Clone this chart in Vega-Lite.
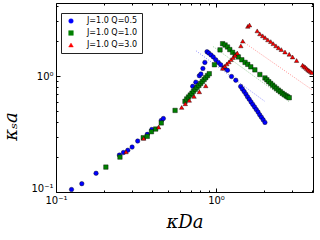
{
  "$schema": "https://vega.github.io/schema/vega-lite/v6.json",
  "width": 257,
  "height": 189,
  "autosize": {"type": "none"},
  "padding": {"left": 56, "top": 3, "right": 7, "bottom": 48},
  "config": {
    "view": {"stroke": "black", "strokeWidth": 1},
    "font": "DejaVu Sans",
    "axis": {"grid": false, "domain": false, "tickColor": "black", "labelColor": "black", "labelFontSize": 10, "labelFont": "DejaVu Sans", "titleColor": "black", "titleFont": "DejaVu Serif", "titleFontStyle": "italic", "titleFontWeight": "normal", "titleFontSize": 18},
    "legend": {"labelFontSize": 8, "labelFont": "DejaVu Sans", "labelColor": "black", "strokeColor": "#222222", "fillColor": "white", "padding": 4, "rowPadding": 4, "symbolSize": 22, "symbolOpacity": 1, "symbolStrokeColor": "black", "symbolStrokeWidth": 0.4, "labelOffset": 12, "cornerRadius": 0, "symbolOffset": 2}
  },
  "datasets": {
    "fits": [
      {"series": "J=1.0 Q=0.5", "kD": 0.75, "ks": 1.65},
      {"series": "J=1.0 Q=0.5", "kD": 2.02, "ks": 0.604},
      {"series": "J=1.0 Q=1.0", "kD": 0.962, "ks": 1.79},
      {"series": "J=1.0 Q=1.0", "kD": 2.87, "ks": 0.60},
      {"series": "J=1.0 Q=3.0", "kD": 1.52, "ks": 1.92},
      {"series": "J=1.0 Q=3.0", "kD": 3.98, "ks": 0.762}
    ],
    "pts": [
      {"series": "J=1.0 Q=0.5", "kD": 0.125, "ks": 0.105},
      {"series": "J=1.0 Q=0.5", "kD": 0.145, "ks": 0.118},
      {"series": "J=1.0 Q=0.5", "kD": 0.178, "ks": 0.145},
      {"series": "J=1.0 Q=0.5", "kD": 0.249, "ks": 0.208},
      {"series": "J=1.0 Q=0.5", "kD": 0.264, "ks": 0.219},
      {"series": "J=1.0 Q=0.5", "kD": 0.281, "ks": 0.229},
      {"series": "J=1.0 Q=0.5", "kD": 0.299, "ks": 0.244},
      {"series": "J=1.0 Q=0.5", "kD": 0.324, "ks": 0.275},
      {"series": "J=1.0 Q=0.5", "kD": 0.372, "ks": 0.314},
      {"series": "J=1.0 Q=0.5", "kD": 0.397, "ks": 0.346},
      {"series": "J=1.0 Q=0.5", "kD": 0.455, "ks": 0.414},
      {"series": "J=1.0 Q=0.5", "kD": 0.469, "ks": 0.43},
      {"series": "J=1.0 Q=0.5", "kD": 0.715, "ks": 0.815},
      {"series": "J=1.0 Q=0.5", "kD": 0.748, "ks": 0.885},
      {"series": "J=1.0 Q=0.5", "kD": 0.787, "ks": 1.006},
      {"series": "J=1.0 Q=0.5", "kD": 0.805, "ks": 1.04},
      {"series": "J=1.0 Q=0.5", "kD": 0.828, "ks": 1.16},
      {"series": "J=1.0 Q=0.5", "kD": 0.852, "ks": 1.31},
      {"series": "J=1.0 Q=0.5", "kD": 0.879, "ks": 1.62},
      {"series": "J=1.0 Q=0.5", "kD": 0.9, "ks": 1.58},
      {"series": "J=1.0 Q=0.5", "kD": 0.931, "ks": 1.52},
      {"series": "J=1.0 Q=0.5", "kD": 0.962, "ks": 1.46},
      {"series": "J=1.0 Q=0.5", "kD": 0.996, "ks": 1.38},
      {"series": "J=1.0 Q=0.5", "kD": 1.034, "ks": 1.31},
      {"series": "J=1.0 Q=0.5", "kD": 1.07, "ks": 1.25},
      {"series": "J=1.0 Q=0.5", "kD": 1.12, "ks": 1.18},
      {"series": "J=1.0 Q=0.5", "kD": 1.18, "ks": 1.12},
      {"series": "J=1.0 Q=0.5", "kD": 1.25, "ks": 0.99},
      {"series": "J=1.0 Q=0.5", "kD": 1.33, "ks": 0.92},
      {"series": "J=1.0 Q=0.5", "kD": 1.426, "ks": 0.813},
      {"series": "J=1.0 Q=0.5", "kD": 1.462, "ks": 0.773},
      {"series": "J=1.0 Q=0.5", "kD": 1.5, "ks": 0.735},
      {"series": "J=1.0 Q=0.5", "kD": 1.538, "ks": 0.698},
      {"series": "J=1.0 Q=0.5", "kD": 1.574, "ks": 0.662},
      {"series": "J=1.0 Q=0.5", "kD": 1.614, "ks": 0.63},
      {"series": "J=1.0 Q=0.5", "kD": 1.656, "ks": 0.598},
      {"series": "J=1.0 Q=0.5", "kD": 1.698, "ks": 0.569},
      {"series": "J=1.0 Q=0.5", "kD": 1.742, "ks": 0.541},
      {"series": "J=1.0 Q=0.5", "kD": 1.786, "ks": 0.514},
      {"series": "J=1.0 Q=0.5", "kD": 1.832, "ks": 0.489},
      {"series": "J=1.0 Q=0.5", "kD": 1.875, "ks": 0.463},
      {"series": "J=1.0 Q=0.5", "kD": 1.923, "ks": 0.441},
      {"series": "J=1.0 Q=0.5", "kD": 1.972, "ks": 0.419},
      {"series": "J=1.0 Q=0.5", "kD": 2.023, "ks": 0.398},
      {"series": "J=1.0 Q=1.0", "kD": 0.205, "ks": 0.164},
      {"series": "J=1.0 Q=1.0", "kD": 0.251, "ks": 0.2},
      {"series": "J=1.0 Q=1.0", "kD": 0.351, "ks": 0.294},
      {"series": "J=1.0 Q=1.0", "kD": 0.372, "ks": 0.302},
      {"series": "J=1.0 Q=1.0", "kD": 0.395, "ks": 0.331},
      {"series": "J=1.0 Q=1.0", "kD": 0.42, "ks": 0.349},
      {"series": "J=1.0 Q=1.0", "kD": 0.455, "ks": 0.394},
      {"series": "J=1.0 Q=1.0", "kD": 0.555, "ks": 0.505},
      {"series": "J=1.0 Q=1.0", "kD": 0.64, "ks": 0.605},
      {"series": "J=1.0 Q=1.0", "kD": 0.656, "ks": 0.634},
      {"series": "J=1.0 Q=1.0", "kD": 0.673, "ks": 0.659},
      {"series": "J=1.0 Q=1.0", "kD": 0.69, "ks": 0.685},
      {"series": "J=1.0 Q=1.0", "kD": 0.708, "ks": 0.711},
      {"series": "J=1.0 Q=1.0", "kD": 0.724, "ks": 0.74},
      {"series": "J=1.0 Q=1.0", "kD": 0.743, "ks": 0.769},
      {"series": "J=1.0 Q=1.0", "kD": 0.762, "ks": 0.8},
      {"series": "J=1.0 Q=1.0", "kD": 0.782, "ks": 0.83},
      {"series": "J=1.0 Q=1.0", "kD": 0.802, "ks": 0.863},
      {"series": "J=1.0 Q=1.0", "kD": 0.822, "ks": 0.897},
      {"series": "J=1.0 Q=1.0", "kD": 0.843, "ks": 0.933},
      {"series": "J=1.0 Q=1.0", "kD": 0.863, "ks": 0.968},
      {"series": "J=1.0 Q=1.0", "kD": 0.885, "ks": 1.007},
      {"series": "J=1.0 Q=1.0", "kD": 0.908, "ks": 1.047},
      {"series": "J=1.0 Q=1.0", "kD": 0.978, "ks": 1.25},
      {"series": "J=1.0 Q=1.0", "kD": 1.06, "ks": 1.68},
      {"series": "J=1.0 Q=1.0", "kD": 1.1, "ks": 1.9},
      {"series": "J=1.0 Q=1.0", "kD": 1.14, "ks": 1.85},
      {"series": "J=1.0 Q=1.0", "kD": 1.18, "ks": 1.78},
      {"series": "J=1.0 Q=1.0", "kD": 1.22, "ks": 1.69},
      {"series": "J=1.0 Q=1.0", "kD": 1.27, "ks": 1.6},
      {"series": "J=1.0 Q=1.0", "kD": 1.32, "ks": 1.52},
      {"series": "J=1.0 Q=1.0", "kD": 1.38, "ks": 1.46},
      {"series": "J=1.0 Q=1.0", "kD": 1.45, "ks": 1.38},
      {"series": "J=1.0 Q=1.0", "kD": 1.52, "ks": 1.31},
      {"series": "J=1.0 Q=1.0", "kD": 1.58, "ks": 1.26},
      {"series": "J=1.0 Q=1.0", "kD": 1.65, "ks": 1.2},
      {"series": "J=1.0 Q=1.0", "kD": 1.75, "ks": 1.13},
      {"series": "J=1.0 Q=1.0", "kD": 1.88, "ks": 1.03},
      {"series": "J=1.0 Q=1.0", "kD": 2.023, "ks": 0.962},
      {"series": "J=1.0 Q=1.0", "kD": 2.08, "ks": 0.927},
      {"series": "J=1.0 Q=1.0", "kD": 2.138, "ks": 0.893},
      {"series": "J=1.0 Q=1.0", "kD": 2.198, "ks": 0.863},
      {"series": "J=1.0 Q=1.0", "kD": 2.259, "ks": 0.834},
      {"series": "J=1.0 Q=1.0", "kD": 2.323, "ks": 0.805},
      {"series": "J=1.0 Q=1.0", "kD": 2.388, "ks": 0.78},
      {"series": "J=1.0 Q=1.0", "kD": 2.455, "ks": 0.755},
      {"series": "J=1.0 Q=1.0", "kD": 2.523, "ks": 0.733},
      {"series": "J=1.0 Q=1.0", "kD": 2.594, "ks": 0.711},
      {"series": "J=1.0 Q=1.0", "kD": 2.667, "ks": 0.692},
      {"series": "J=1.0 Q=1.0", "kD": 2.742, "ks": 0.675},
      {"series": "J=1.0 Q=1.0", "kD": 2.805, "ks": 0.661},
      {"series": "J=1.0 Q=1.0", "kD": 2.871, "ks": 0.65},
      {"series": "J=1.0 Q=3.0", "kD": 0.274, "ks": 0.222},
      {"series": "J=1.0 Q=3.0", "kD": 0.353, "ks": 0.29},
      {"series": "J=1.0 Q=3.0", "kD": 0.438, "ks": 0.363},
      {"series": "J=1.0 Q=3.0", "kD": 0.61, "ks": 0.536},
      {"series": "J=1.0 Q=3.0", "kD": 0.643, "ks": 0.577},
      {"series": "J=1.0 Q=3.0", "kD": 0.681, "ks": 0.617},
      {"series": "J=1.0 Q=3.0", "kD": 0.729, "ks": 0.667},
      {"series": "J=1.0 Q=3.0", "kD": 0.787, "ks": 0.731},
      {"series": "J=1.0 Q=3.0", "kD": 0.863, "ks": 0.824},
      {"series": "J=1.0 Q=3.0", "kD": 1.102, "ks": 1.164},
      {"series": "J=1.0 Q=3.0", "kD": 1.135, "ks": 1.216},
      {"series": "J=1.0 Q=3.0", "kD": 1.169, "ks": 1.271},
      {"series": "J=1.0 Q=3.0", "kD": 1.205, "ks": 1.324},
      {"series": "J=1.0 Q=3.0", "kD": 1.242, "ks": 1.384},
      {"series": "J=1.0 Q=3.0", "kD": 1.279, "ks": 1.445},
      {"series": "J=1.0 Q=3.0", "kD": 1.318, "ks": 1.51},
      {"series": "J=1.0 Q=3.0", "kD": 1.358, "ks": 1.578},
      {"series": "J=1.0 Q=3.0", "kD": 1.43, "ks": 1.82},
      {"series": "J=1.0 Q=3.0", "kD": 1.47, "ks": 2.0},
      {"series": "J=1.0 Q=3.0", "kD": 1.58, "ks": 2.68},
      {"series": "J=1.0 Q=3.0", "kD": 1.62, "ks": 2.75},
      {"series": "J=1.0 Q=3.0", "kD": 1.81, "ks": 2.45},
      {"series": "J=1.0 Q=3.0", "kD": 1.88, "ks": 2.31},
      {"series": "J=1.0 Q=3.0", "kD": 1.96, "ks": 2.22},
      {"series": "J=1.0 Q=3.0", "kD": 2.03, "ks": 2.14},
      {"series": "J=1.0 Q=3.0", "kD": 2.11, "ks": 2.05},
      {"series": "J=1.0 Q=3.0", "kD": 2.2, "ks": 1.98},
      {"series": "J=1.0 Q=3.0", "kD": 2.28, "ks": 1.9},
      {"series": "J=1.0 Q=3.0", "kD": 2.37, "ks": 1.82},
      {"series": "J=1.0 Q=3.0", "kD": 2.46, "ks": 1.75},
      {"series": "J=1.0 Q=3.0", "kD": 2.56, "ks": 1.69},
      {"series": "J=1.0 Q=3.0", "kD": 2.7, "ks": 1.61},
      {"series": "J=1.0 Q=3.0", "kD": 2.87, "ks": 1.54},
      {"series": "J=1.0 Q=3.0", "kD": 3.01, "ks": 1.46},
      {"series": "J=1.0 Q=3.0", "kD": 3.19, "ks": 1.36},
      {"series": "J=1.0 Q=3.0", "kD": 3.48, "ks": 1.24},
      {"series": "J=1.0 Q=3.0", "kD": 3.55, "ks": 1.21},
      {"series": "J=1.0 Q=3.0", "kD": 3.62, "ks": 1.19},
      {"series": "J=1.0 Q=3.0", "kD": 3.69, "ks": 1.16},
      {"series": "J=1.0 Q=3.0", "kD": 3.76, "ks": 1.13},
      {"series": "J=1.0 Q=3.0", "kD": 3.83, "ks": 1.11},
      {"series": "J=1.0 Q=3.0", "kD": 3.91, "ks": 1.09},
      {"series": "J=1.0 Q=3.0", "kD": 3.98, "ks": 1.07}
    ]
  },
  "layer": [
    {
      "data": {"name": "fits"},
      "mark": {"type": "line", "strokeDash": [1, 1.5], "strokeWidth": 0.8, "opacity": 0.55, "clip": true},
      "encoding": {
        "x": {"field": "kD", "type": "quantitative", "scale": {"type": "log", "domain": [0.1, 4.04], "nice": false},
          "axis": {"orient": "bottom", "title": "κDa", "values": [0.1,0.2,0.3,0.4,0.5,0.6,0.7,0.8,0.9,1,2,3,4],
            "labelExpr": "datum.value == 0.1 ? '10⁻¹' : (datum.value == 1 ? '10⁰' : '')",
            "tickSize": {"condition": {"test": "datum.value == 0.1 || datum.value == 1", "value": -4}, "value": -2},
            "labelPadding": 7, "titlePadding": 6, "labelFlush": false, "labelOverlap": false}},
        "y": {"field": "ks", "type": "quantitative", "scale": {"type": "log", "domain": [0.1, 4.26], "nice": false},
          "axis": {"orient": "left", "title": "κₛa", "values": [0.1,0.2,0.3,0.4,0.5,0.6,0.7,0.8,0.9,1,2,3,4],
            "labelExpr": "datum.value == 0.1 ? '10⁻¹' : (datum.value == 1 ? '10⁰' : '')",
            "labelOffset": {"condition": {"test": "datum.value == 0.1", "value": -4}, "value": 0},
            "tickSize": {"condition": {"test": "datum.value == 0.1 || datum.value == 1", "value": -4}, "value": -2},
            "labelPadding": 7, "titlePadding": 10, "titleY": 123, "labelFlush": false, "labelOverlap": false}},
        "color": {"field": "series", "type": "nominal", "scale": {"domain": ["J=1.0 Q=0.5", "J=1.0 Q=1.0", "J=1.0 Q=3.0"], "range": ["#0000ff", "#008000", "#ff0000"]},
          "legend": {"title": null, "orient": "none", "legendX": 5, "legendY": 10}},
        "detail": {"field": "series"}
      }
    },
    {
      "data": {"name": "pts"},
      "mark": {"type": "point", "filled": true, "stroke": "black", "strokeWidth": 0.4, "opacity": 1, "size": 20, "clip": true},
      "encoding": {
        "x": {"field": "kD", "type": "quantitative", "scale": {"type": "log", "domain": [0.1, 4.04], "nice": false},
          "axis": {"orient": "top", "title": null, "labels": false, "values": [0.1,0.2,0.3,0.4,0.5,0.6,0.7,0.8,0.9,1,2,3,4],
            "tickSize": {"condition": {"test": "datum.value == 0.1 || datum.value == 1", "value": -4}, "value": -2}}},
        "y": {"field": "ks", "type": "quantitative", "scale": {"type": "log", "domain": [0.1, 4.26], "nice": false},
          "axis": {"orient": "right", "title": null, "labels": false, "values": [0.1,0.2,0.3,0.4,0.5,0.6,0.7,0.8,0.9,1,2,3,4],
            "tickSize": {"condition": {"test": "datum.value == 0.1 || datum.value == 1", "value": -4}, "value": -2}}},
        "color": {"field": "series", "type": "nominal", "scale": {"domain": ["J=1.0 Q=0.5", "J=1.0 Q=1.0", "J=1.0 Q=3.0"], "range": ["#0000ff", "#008000", "#ff0000"]},
          "legend": {"title": null, "orient": "none", "legendX": 5, "legendY": 10}},
        "shape": {"field": "series", "type": "nominal", "scale": {"domain": ["J=1.0 Q=0.5", "J=1.0 Q=1.0", "J=1.0 Q=3.0"], "range": ["circle", "square", "triangle-up"]},
          "legend": {"title": null, "orient": "none", "legendX": 5, "legendY": 10}}
      }
    }
  ],
  "resolve": {"axis": {"x": "independent", "y": "independent"}}
}
